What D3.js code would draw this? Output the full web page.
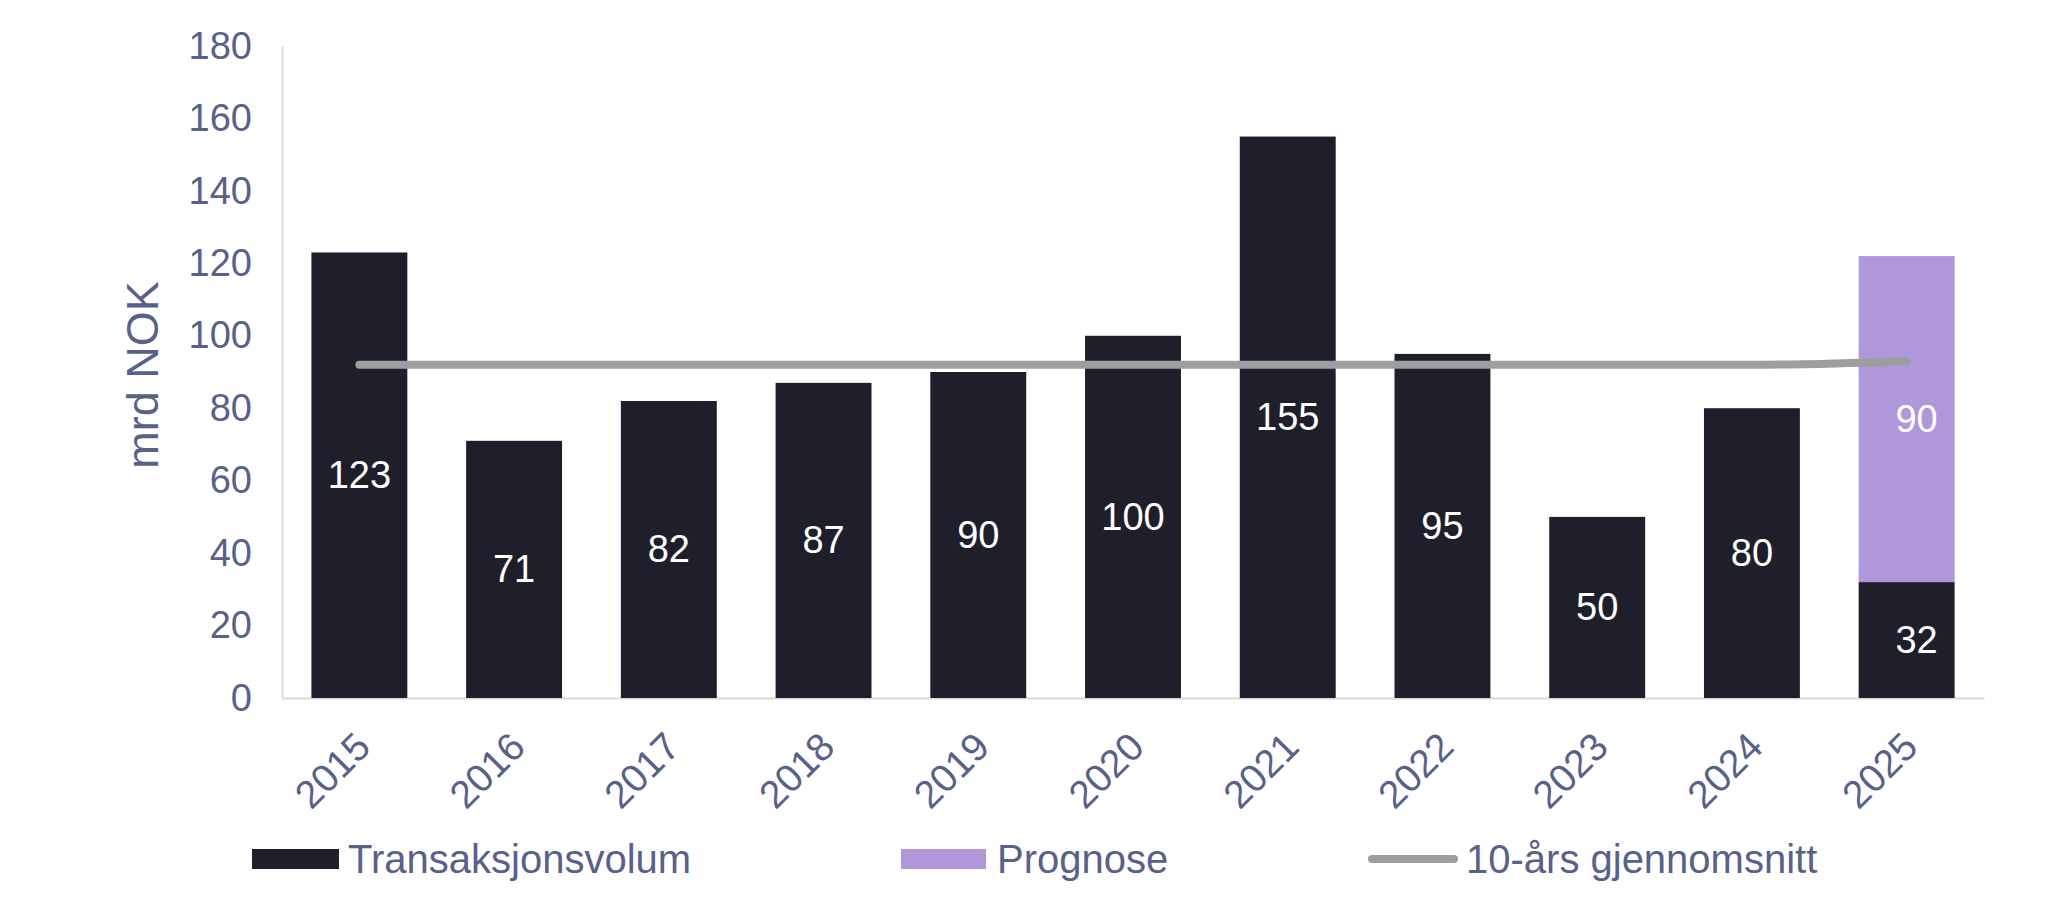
<!DOCTYPE html>
<html>
<head>
<meta charset="utf-8">
<script src="https://cdn.jsdelivr.net/npm/d3@7"></script>
<style>
  html, body { margin: 0; padding: 0; background: #fff; }
  text { font-family: 'Liberation Sans', Arial, sans-serif; }
</style>
</head>
<body>
<div id="chart"></div>
<script>
var years = ['2015', '2016', '2017', '2018', '2019', '2020', '2021', '2022', '2023', '2024', '2025']
var volum = [123, 71, 82, 87, 90, 100, 155, 95, 50, 80, 32]
var prognose = [0, 0, 0, 0, 0, 0, 0, 0, 0, 0, 90]
var snitt = [92, 92, 92, 92, 92, 92, 92, 92, 92, 92, 93]
var yTicks = [0, 20, 40, 60, 80, 100, 120, 140, 160, 180]
var legendNames = ['Transaksjonsvolum', 'Prognose', '10-års gjennomsnitt']

var width_all = 2048, height_all = 922
var margin = { top: 46, right: 64, bottom: 224, left: 282 }
var width = width_all - margin.left - margin.right,
  height = height_all - margin.top - margin.bottom

var textCol = '#58618a', darkCol = '#1e1f2b', purpleCol = '#b097d9', lineCol = '#9c9fa0'

var svg = d3
  .select('#chart')
  .append('svg')
  .attr('width', width_all)
  .attr('height', height_all)
  .append('g')
  .attr('transform', 'translate(' + margin.left + ',' + margin.top + ')')

var x = d3.scaleBand().domain(years).range([0, width]).paddingInner(0.38).paddingOuter(0.19)
var y = d3.scaleLinear().domain([0, 180]).range([height, 0])

// axes
var yAxis = svg.append('g').call(d3.axisLeft(y).tickValues(yTicks).tickSize(0).tickPadding(30))
yAxis.select('.domain').attr('stroke', '#d9d9d9').attr('stroke-width', 2)
yAxis.selectAll('text').attr('fill', textCol).attr('font-size', 38)

var xAxis = svg
  .append('g')
  .attr('transform', 'translate(0,' + height + ')')
  .call(d3.axisBottom(x).tickSize(0))
xAxis.select('.domain').attr('stroke', '#d9d9d9').attr('stroke-width', 2)
xAxis
  .selectAll('text')
  .attr('fill', textCol)
  .attr('font-size', 39)
  .attr('y', 0)
  .attr('x', 0)
  .attr('dy', 0)
  .attr('transform', 'translate(6,44) rotate(-45)')
  .style('text-anchor', 'end')
  .attr('dominant-baseline', 'middle')

svg
  .append('text')
  .attr('transform', 'translate(' + (146 - margin.left) + ',' + (375 - margin.top) + ') rotate(-90)')
  .attr('text-anchor', 'middle')
  .attr('dominant-baseline', 'middle')
  .attr('fill', textCol)
  .attr('font-size', 45)
  .text('mrd NOK')

// bars
svg
  .selectAll('.bar')
  .data(years)
  .enter()
  .append('rect')
  .attr('x', d => x(d))
  .attr('width', x.bandwidth())
  .attr('y', (d, i) => y(volum[i]))
  .attr('height', (d, i) => y(0) - y(volum[i]))
  .attr('fill', darkCol)

svg
  .selectAll('.prog')
  .data(years.filter((d, i) => prognose[i] > 0))
  .enter()
  .append('rect')
  .attr('x', d => x(d))
  .attr('width', x.bandwidth())
  .attr('y', d => {
    var i = years.indexOf(d)
    return y(volum[i] + prognose[i])
  })
  .attr('height', d => {
    var i = years.indexOf(d)
    return y(volum[i]) - y(volum[i] + prognose[i])
  })
  .attr('fill', purpleCol)

// line
svg
  .append('path')
  .datum(snitt)
  .attr('fill', 'none')
  .attr('stroke', lineCol)
  .attr('stroke-width', 8)
  .attr('stroke-linecap', 'round')
  .attr(
    'd',
    d3
      .line()
      .curve(d3.curveMonotoneX)
      .x((d, i) => x(years[i]) + x.bandwidth() / 2)
      .y(d => y(d))
  )

// labels
var labelOffset = years.map((d, i) => (prognose[i] > 0 ? 10 : 0))
svg
  .selectAll('.lab')
  .data(years)
  .enter()
  .append('text')
  .attr('x', (d, i) => x(d) + x.bandwidth() / 2 + labelOffset[i])
  .attr('y', (d, i) => y(volum[i] / 2))
  .attr('text-anchor', 'middle')
  .attr('dominant-baseline', 'central')
  .attr('fill', '#fff')
  .attr('font-size', 38)
  .text((d, i) => volum[i])

svg
  .selectAll('.plab')
  .data(years.filter((d, i) => prognose[i] > 0))
  .enter()
  .append('text')
  .attr('x', d => x(d) + x.bandwidth() / 2 + 10)
  .attr('y', d => {
    var i = years.indexOf(d)
    return y(volum[i] + prognose[i] / 2)
  })
  .attr('text-anchor', 'middle')
  .attr('dominant-baseline', 'central')
  .attr('fill', '#fff')
  .attr('font-size', 38)
  .text(d => prognose[years.indexOf(d)])

// legend
var legX = [252, 901, 1368]
var legend = svg
  .append('g')
  .attr('transform', 'translate(' + -margin.left + ',' + (859 - margin.top) + ')')
  .selectAll('g')
  .data(legendNames)
  .enter()
  .append('g')
  .attr('transform', (d, i) => 'translate(' + legX[i] + ',0)')

legend.each(function (d, i) {
  var g = d3.select(this)
  if (i < 2) {
    g.append('rect')
      .attr('x', 0)
      .attr('y', -10)
      .attr('width', i == 0 ? 87 : 85)
      .attr('height', 20)
      .attr('fill', i == 0 ? darkCol : purpleCol)
  } else {
    g.append('line')
      .attr('x1', 4)
      .attr('x2', 86)
      .attr('stroke', lineCol)
      .attr('stroke-width', 8)
      .attr('stroke-linecap', 'round')
  }
  g.append('text')
    .attr('x', i == 2 ? 98 : 96)
    .attr('dominant-baseline', 'central')
    .attr('fill', textCol)
    .attr('font-size', 40)
    .text(d)
})
</script>
</body>
</html>
